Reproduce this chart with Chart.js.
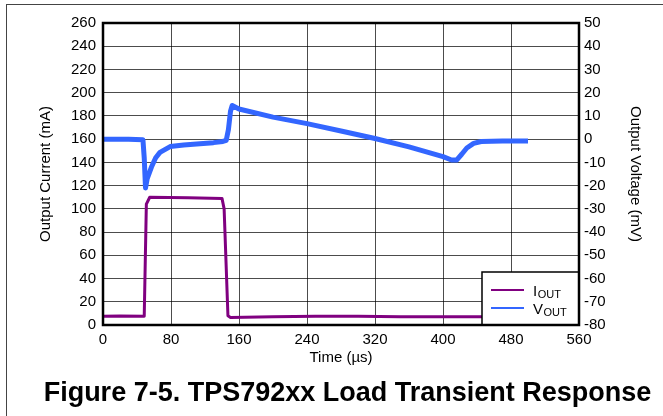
<!DOCTYPE html>
<html>
<head>
<meta charset="utf-8">
<script src="https://cdn.jsdelivr.net/npm/chart.js@4/dist/chart.umd.min.js"></script>
<style>
  html, body { margin: 0; padding: 0; background: #fff; overflow: hidden; }
  #wrap { position: relative; width: 663px; height: 416px; }
  #frame { position: absolute; left: 6px; top: 4px; width: 720px; height: 480px; border: 1px solid #444; box-sizing: border-box; }
  #chart { position: absolute; left: 0; top: 0; }
  #caption { position: absolute; left: 0; top: 377px; width: 695px; text-align: center;
             font: bold 27px "Liberation Sans", Arial, sans-serif; color: #000; }
</style>
</head>
<body>
<div id="wrap">
  <div id="frame"></div>
  <canvas id="chart" width="663" height="416"></canvas>
  <div id="caption">Figure 7-5. TPS792xx Load Transient Response</div>
</div>
<script>
// output current (mA) vs time (us)
const timeI = [0, 20, 48.5, 51, 55, 100, 140, 142.5, 147, 150, 200, 250, 300, 350, 400, 450, 500];
const iout  = [7.5, 7.8, 7.5, 104, 110, 109.5, 109, 100, 8, 6.5, 7, 7.5, 7.5, 7.2, 7, 7, 7];

// output voltage (mV) vs time (us)
const timeV = [0, 30, 47, 48.5, 50, 52, 57, 62, 67, 79, 95, 114, 130, 141, 145, 147.5, 150, 152, 160,
               200, 240, 280, 320, 360, 400, 410, 416, 422, 428, 436, 445, 470, 500];
const vout  = [0, 0, -0.3, -8, -21, -17, -12, -8, -5.7, -3.2, -2.5, -2, -1.5, -1, -0.5, 4, 12, 14.5, 13,
               9.5, 6.7, 3.5, 0.3, -3.3, -7.5, -9, -9, -6.5, -3.8, -1.8, -1, -0.8, -0.8];

const seriesNames = [["I", "OUT"], ["V", "OUT"]];
const seriesColors = ["#800080", "#3366ff"];

const font = "'Liberation Sans', Arial, sans-serif";

const toPoints = (xs, ys) => xs.map((x, i) => ({ x: x, y: ys[i] }));

const frameAndLegend = {
  id: "frameAndLegend",
  afterDatasetsDraw(chart) {
    const { ctx, chartArea: a } = chart;
    ctx.save();
    // legend box, bottom right corner of the plot
    const w = 97, h = 53;
    const x0 = a.right - w, y0 = a.bottom - h;
    ctx.fillStyle = "#fff";
    ctx.fillRect(x0, y0, w, h);
    ctx.strokeStyle = "#000";
    ctx.lineWidth = 1.5;
    ctx.strokeRect(x0, y0, w, h);
    seriesNames.forEach((name, i) => {
      const ly = y0 + 18 + i * 18;
      ctx.strokeStyle = seriesColors[i];
      ctx.lineWidth = 2;
      ctx.beginPath();
      ctx.moveTo(x0 + 9, ly);
      ctx.lineTo(x0 + 42, ly);
      ctx.stroke();
      ctx.fillStyle = "#000";
      ctx.textBaseline = "alphabetic";
      ctx.font = "15px " + font;
      ctx.fillText(name[0], x0 + 51, ly + 6);
      const mw = ctx.measureText(name[0]).width;
      ctx.font = "11px " + font;
      ctx.fillText(name[1], x0 + 51 + mw + 0.5, ly + 8);
    });
    // heavy plot border
    ctx.strokeStyle = "#000";
    ctx.lineWidth = 2.5;
    ctx.strokeRect(a.left, a.top, a.right - a.left, a.bottom - a.top);
    ctx.restore();
  }
};

const gridStyle = { color: "rgba(0,0,0,0.7)", lineWidth: 1, drawTicks: false };
const tickFont = { family: font, size: 15 };
const titleFont = { family: font, size: 15 };

new Chart(document.getElementById("chart"), {
  type: "line",
  data: {
    datasets: [
      {
        label: "IOUT",
        data: toPoints(timeI, iout),
        yAxisID: "yI",
        borderColor: seriesColors[0],
        borderWidth: 3,
        borderJoinStyle: "round",
        pointRadius: 0,
        tension: 0
      },
      {
        label: "VOUT",
        data: toPoints(timeV, vout),
        yAxisID: "yV",
        borderColor: seriesColors[1],
        borderWidth: 5,
        borderJoinStyle: "round",
        pointRadius: 0,
        tension: 0
      }
    ]
  },
  options: {
    responsive: false,
    animation: false,
    layout: { padding: { left: 33, right: 15, top: 23, bottom: 49 } },
    plugins: { legend: { display: false }, tooltip: { enabled: false } },
    scales: {
      x: {
        type: "linear",
        min: 0, max: 560,
        ticks: { stepSize: 80, color: "#000", font: tickFont, padding: 6, maxRotation: 0 },
        grid: gridStyle,
        border: { display: false },
        title: { display: true, text: "Time (µs)", color: "#000", font: titleFont, padding: { top: 0, bottom: 0 } },
        afterFit: (s) => { s.height = 42; }
      },
      yI: {
        position: "left",
        min: 0, max: 260,
        ticks: { stepSize: 20, color: "#000", font: tickFont, padding: 7 },
        grid: gridStyle,
        border: { display: false },
        title: { display: true, text: "Output Current (mA)", color: "#000", font: titleFont, padding: 4 },
        afterFit: (s) => { s.width = 70; }
      },
      yV: {
        position: "right",
        min: -80, max: 50,
        ticks: { stepSize: 10, color: "#000", font: tickFont, padding: 5 },
        grid: { drawOnChartArea: false, drawTicks: false },
        border: { display: false },
        title: { display: true, text: "Output Voltage (mV)", color: "#000", font: titleFont, padding: 4 },
        afterFit: (s) => { s.width = 69; }
      }
    }
  },
  plugins: [frameAndLegend]
});
</script>
</body>
</html>
